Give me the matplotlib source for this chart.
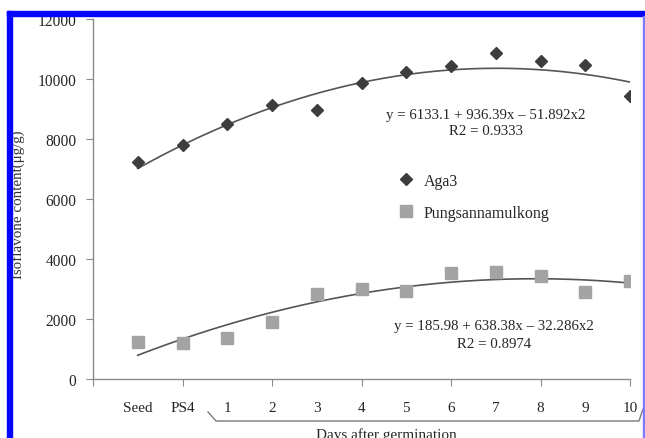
import numpy as np
import matplotlib
matplotlib.use("Agg")
import matplotlib.pyplot as plt
from matplotlib.patches import Rectangle

plt.rcParams['font.family'] = ['Liberation Serif', 'DejaVu Serif']

# ---- data ----
categories = ["Seed", "PS4", "1", "2", "3", "4", "5", "6", "7", "8", "9", "10"]
x_pos = list(range(1, 13))
aga3 = [7240, 7800, 8500, 9140, 8960, 9860, 10220, 10420, 10860, 10600, 10480, 9440]
pungsan = [1220, 1190, 1360, 1890, 2850, 3000, 2940, 3530, 3560, 3440, 2890, 3260]
# displayed trendline coefficients (c0, c1, c2)
aga3_fit = [6133.1, 936.39, -51.892]
pungsan_fit = [185.98, 638.38, -32.286]
aga3_eq = ["y = 6133.1 + 936.39x \u2013 51.892x2", "R2 = 0.9333"]
pungsan_eq = ["y = 185.98 + 638.38x \u2013 32.286x2", "R2 = 0.8974"]
series_names = ["Aga3", "Pungsannamulkong"]
y_ticks = [0, 2000, 4000, 6000, 8000, 10000, 12000]

W, H = 645, 439
fig = plt.figure(figsize=(W / 100, H / 100), dpi=100)
ax = fig.add_axes([93 / W, 1 - 380 / H, (630 - 93) / W, (380 - 20) / H])

txt = '#262626'
axc = '#8a8a8a'

xs = np.linspace(1, 12, 200)
def quad(c, x):
    return c[0] + c[1] * x + c[2] * x ** 2

ax.plot(xs, quad(aga3_fit, xs), color='#555555', lw=1.2, zorder=2)
ax.plot(xs, quad(pungsan_fit, xs), color='#555555', lw=1.2, zorder=2)
h1, = ax.plot(x_pos, aga3, linestyle='none', marker='D', ms=6, color='#3d3d3d', zorder=3, label=series_names[0])
h2, = ax.plot(x_pos, pungsan, linestyle='none', marker='s', ms=8.5, color='#a3a3a3', zorder=3, label=series_names[1])

ax.set_xlim(0, 12)
ax.set_ylim(0, 12000)
for s in ['top', 'right']:
    ax.spines[s].set_visible(False)
for s in ['left', 'bottom']:
    ax.spines[s].set_color(axc)
    ax.spines[s].set_linewidth(1.0)

ax.set_yticks(y_ticks)
ax.set_yticklabels([str(v) for v in y_ticks], fontsize=11.2, color=txt)
ax.tick_params(axis='y', direction='out', length=5, color=axc, pad=7)

ax.xaxis.remove_overlapping_locs = False
ax.set_xticks(range(0, 13, 2))
ax.set_xticklabels([])
ax.set_xticks(x_pos, minor=True)
ax.set_xticklabels(categories, minor=True, fontsize=11, color=txt)
ax.tick_params(axis='x', which='major', direction='out', length=5, color=axc)
ax.tick_params(axis='x', which='minor', length=0, pad=16)

# equations
ax.text(8.78, 8833, aga3_eq[0], ha='center', va='center', fontsize=10.7, color=txt)
ax.text(8.78, 8267, aga3_eq[1], ha='center', va='center', fontsize=10.7, color=txt)
ax.text(8.96, 1767, pungsan_eq[0], ha='center', va='center', fontsize=10.7, color=txt)
ax.text(8.96, 1167, pungsan_eq[1], ha='center', va='center', fontsize=10.7, color=txt)

leg = fig.legend(handles=[h1, h2], loc='upper left', bbox_to_anchor=(398 / W, 1 - 174 / H),
                 frameon=False, fontsize=11.5, handlelength=1.0, handletextpad=0.6,
                 borderpad=0, borderaxespad=0, labelspacing=1.0)
for t in leg.get_texts():
    t.set_color(txt)

# bracket under day labels
bx = [(208 - 93) / 44.75, (216 - 93) / 44.75, (639 - 93) / 44.75, (643 - 93) / 44.75]
by = [(380 - 413) * 33.33, (380 - 422) * 33.33, (380 - 422) * 33.33, (380 - 410) * 33.33]
ax.plot(bx, by, color='#7a7a7a', lw=1.0, clip_on=False)
fig.text(386 / W, 1 - 428 / H, "Days after germination", ha='center', va='top', fontsize=11, color=txt)

fig.text(18 / W, 1 - 205 / H, "Isoflavone content(\u03bcg/g)", rotation=90, ha='center', va='center',
         fontsize=10.8, color='#333333')

# blue frame
fig.add_artist(Rectangle((0, 1 - 11.7 / H), 1, 11.7 / H, transform=fig.transFigure, color='white', zorder=20))
fig.add_artist(Rectangle((0, 0), 7.3 / W, 1, transform=fig.transFigure, color='white', zorder=20))
fig.add_artist(Rectangle((7.3 / W, 1 - 16.7 / H), 1, 5 / H, transform=fig.transFigure, color='#0505ff', zorder=21))
fig.add_artist(Rectangle((7.3 / W, 0), 5 / W, 1 - 11.7 / H, transform=fig.transFigure, color='#0505ff', zorder=21))
fig.add_artist(Rectangle((642.5 / W, 0), 1.5 / W, 1 - 16.7 / H, transform=fig.transFigure, color='#7a7aff', zorder=21))

fig.savefig("out.png", dpi=100)
